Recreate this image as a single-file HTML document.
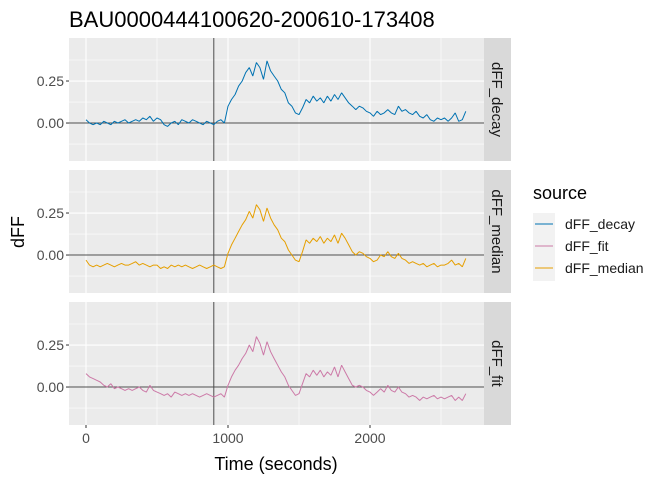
<!DOCTYPE html>
<html><head><meta charset="utf-8"><style>
body{margin:0;background:#fff;font-family:"Liberation Sans",sans-serif}
svg text{font-family:"Liberation Sans",sans-serif}
</style></head><body>
<svg id="chart" width="672" height="480" xmlns="http://www.w3.org/2000/svg">
<rect width="672" height="480" fill="#fff"/>
<text x="69" y="27" font-size="22" fill="#000">BAU0000444100620-200610-173408</text>
<g id="panels"></g>
<text x="0" y="0" font-size="18" fill="#000" text-anchor="middle" transform="translate(24,232) rotate(-90)">dFF</text>
<text x="276" y="470" font-size="18" fill="#000" text-anchor="middle">Time (seconds)</text>
<g>
<text x="533" y="199" font-size="18" fill="#000">source</text>
<rect x="533" y="213" width="22" height="68" fill="#f2f2f2"/>
<line x1="535" x2="553" y1="224" y2="224" stroke="#0072B2" stroke-width="1"/>
<line x1="535" x2="553" y1="246" y2="246" stroke="#CC79A7" stroke-width="1"/>
<line x1="535" x2="553" y1="268" y2="268" stroke="#E69F00" stroke-width="1"/>
<text x="565" y="229" font-size="14" fill="#1a1a1a">dFF_decay</text>
<text x="565" y="251" font-size="14" fill="#1a1a1a">dFF_fit</text>
<text x="565" y="273" font-size="14" fill="#1a1a1a">dFF_median</text>
</g>
</svg>
<script>
const facetNames = ["dFF_decay","dFF_median","dFF_fit"];
const facetColors = ["#0072B2","#E69F00","#CC79A7"];
const decayValues = [0.02,0.00,-0.01,0.00,-0.01,0.01,0.00,-0.01,0.01,0.00,0.01,0.02,0.00,0.01,0.02,0.01,0.03,0.02,0.04,0.01,
0.03,0.02,-0.01,-0.02,0.00,0.01,-0.01,0.02,0.01,0.00,0.02,0.01,0.00,-0.01,0.01,0.00,-0.01,0.01,0.02,0.00,
0.10,0.14,0.17,0.22,0.25,0.30,0.33,0.28,0.36,0.33,0.26,0.37,0.31,0.28,0.25,0.20,0.18,0.12,0.10,0.06,
0.05,0.09,0.14,0.12,0.16,0.13,0.15,0.12,0.16,0.13,0.17,0.14,0.18,0.15,0.12,0.10,0.08,0.10,0.09,0.07,
0.06,0.04,0.07,0.05,0.06,0.08,0.06,0.05,0.10,0.07,0.08,0.06,0.05,0.07,0.04,0.03,0.05,0.02,0.01,0.03,
0.02,0.03,0.01,0.03,0.06,0.01,0.02,0.07];
const medianValues = [-0.03,-0.06,-0.07,-0.06,-0.07,-0.06,-0.05,-0.06,-0.07,-0.06,-0.05,-0.06,-0.06,-0.05,-0.04,-0.06,-0.05,-0.06,-0.07,-0.06,
-0.06,-0.08,-0.07,-0.08,-0.06,-0.07,-0.06,-0.07,-0.06,-0.07,-0.08,-0.07,-0.06,-0.07,-0.08,-0.07,-0.06,-0.07,-0.08,-0.07,
0.01,0.06,0.10,0.14,0.18,0.21,0.26,0.22,0.30,0.27,0.20,0.28,0.22,0.18,0.15,0.10,0.08,0.03,0.00,-0.03,
-0.04,0.02,0.09,0.07,0.10,0.08,0.11,0.07,0.10,0.08,0.12,0.07,0.13,0.10,0.06,0.02,0.00,0.02,0.01,-0.01,
-0.02,-0.04,-0.03,0.00,-0.01,0.02,-0.01,-0.02,0.01,-0.02,-0.03,-0.05,-0.04,-0.05,-0.06,-0.05,-0.07,-0.06,-0.05,-0.07,
-0.06,-0.06,-0.05,-0.03,-0.06,-0.05,-0.07,-0.02];
const fitValues = [0.08,0.06,0.05,0.04,0.03,0.01,0.00,0.02,-0.01,0.00,-0.01,-0.02,-0.01,-0.02,-0.01,0.00,-0.02,-0.03,0.01,-0.02,
-0.03,-0.04,-0.05,-0.04,-0.06,-0.03,-0.04,-0.05,-0.04,-0.05,-0.04,-0.05,-0.06,-0.05,-0.04,-0.05,-0.06,-0.05,-0.04,-0.06,
0.01,0.06,0.10,0.13,0.17,0.20,0.25,0.21,0.30,0.26,0.19,0.27,0.21,0.17,0.13,0.09,0.06,0.01,-0.02,-0.05,
-0.04,0.02,0.08,0.06,0.10,0.07,0.10,0.06,0.09,0.07,0.12,0.06,0.13,0.09,0.05,0.01,0.00,0.01,0.00,-0.02,
-0.03,-0.05,-0.03,-0.01,-0.03,0.01,-0.02,-0.03,0.00,-0.03,-0.04,-0.06,-0.05,-0.06,-0.08,-0.06,-0.07,-0.06,-0.05,-0.07,
-0.06,-0.07,-0.06,-0.05,-0.08,-0.06,-0.08,-0.04];
const seriesValues = [decayValues, medianValues, fitValues];
const sampleInterval = 25;
const xTicks = [0,1000,2000];
const xTickLabels = ["0","1000","2000"];
const yTicks = [0,0.25];
const yTickLabels = ["0.00","0.25"];
const stimulusTime = 900;

const NS="http://www.w3.org/2000/svg";
const px0=69, px1=484, panelTops=[38,170,302], panelH=123;
const x=t=>86+t*0.142;
const yMax=0.506, yMin=-0.226;
const y=(v,top)=>top+(yMax-v)/(yMax-yMin)*panelH;
const g=document.getElementById('panels');
function mk(tag,attrs,parent){const e=document.createElementNS(NS,tag);for(const k in attrs)e.setAttribute(k,attrs[k]);(parent||g).appendChild(e);return e;}

facetNames.forEach((name,i)=>{
  const top=panelTops[i];
  const p=mk('g',{});
  
  
  const bg=mk('rect',{x:px0,y:top,width:px1-px0,height:panelH,fill:'#ebebeb'},p);
  
  
  [-0.125,0.125,0.375].forEach(v=>mk('line',{x1:px0,x2:px1,y1:y(v,top),y2:y(v,top),stroke:'#fff','stroke-width':0.6},p));
  [500,1500,2500].forEach(v=>mk('line',{x1:x(v),x2:x(v),y1:top,y2:top+panelH,stroke:'#fff','stroke-width':0.6},p));
  yTicks.forEach(v=>mk('line',{x1:px0,x2:px1,y1:y(v,top),y2:y(v,top),stroke:'#fff','stroke-width':1.1},p));
  xTicks.forEach(v=>mk('line',{x1:x(v),x2:x(v),y1:top,y2:top+panelH,stroke:'#fff','stroke-width':1.1},p));
  const h=mk('line',{x1:px0,x2:px1,y1:y(0,top),y2:y(0,top),stroke:'#4d4d4d','stroke-width':1},p);
  
  
  const vl=mk('line',{x1:x(stimulusTime),x2:x(stimulusTime),y1:top,y2:top+panelH,stroke:'#4d4d4d','stroke-width':1},p);
  
  
  const vals=seriesValues[i];
  const d=vals.map((v,j)=>(j?'L':'M')+x(j*sampleInterval).toFixed(1)+','+y(v,top).toFixed(1)).join('');
  const path=mk('path',{d:d,fill:'none',stroke:facetColors[i],'stroke-width':1,'stroke-linejoin':'bevel'},p);
  
  
  yTicks.forEach((v,k)=>{
    mk('line',{x1:px0-3,x2:px0,y1:y(v,top),y2:y(v,top),stroke:'#333'},p);
    const t=mk('text',{x:px0-5,y:y(v,top)+5,'font-size':14,fill:'#4d4d4d','text-anchor':'end'},p);
    t.textContent=yTickLabels[k];
    
    
  });
  const s=mk('rect',{x:px1,y:top,width:27,height:panelH,fill:'#d9d9d9'},p);
  
  
  const st=mk('text',{x:0,y:0,'font-size':15,fill:'#1a1a1a','text-anchor':'middle',transform:`translate(${px1+8},${top+panelH/2}) rotate(90)`},p);
  st.textContent=name;
  
  
});
xTicks.forEach((v,k)=>{
  mk('line',{x1:x(v),x2:x(v),y1:425,y2:428,stroke:'#333'});
  const t=mk('text',{x:x(v),y:443,'font-size':14,fill:'#4d4d4d','text-anchor':'middle'});
  t.textContent=xTickLabels[k];
  
  
});
</script>
</body></html>
